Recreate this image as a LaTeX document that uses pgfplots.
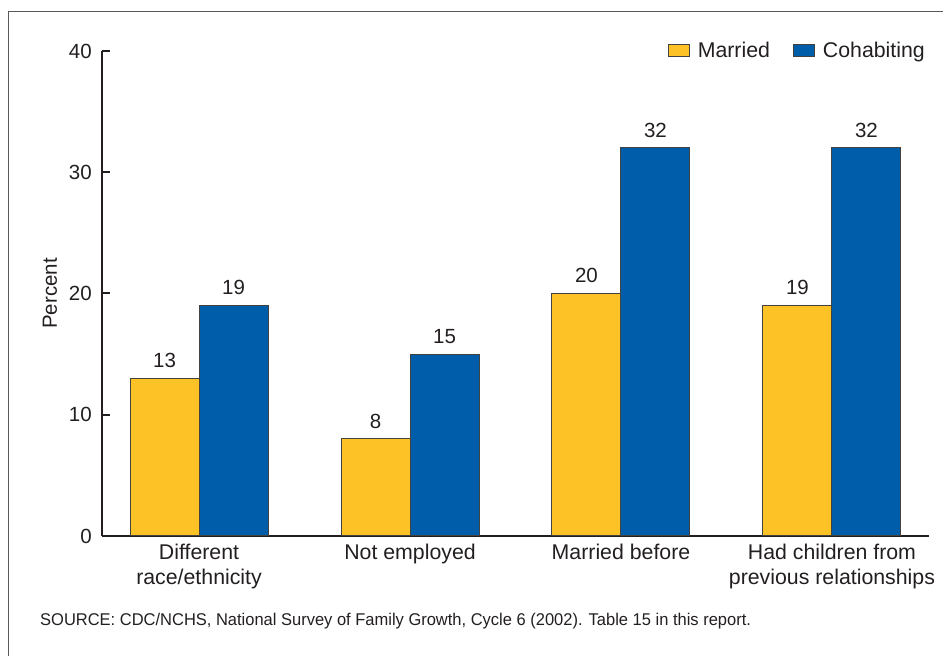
\documentclass[border=0pt]{standalone}
\usepackage{pgfplots}
\pgfplotsset{compat=1.18}
\usepackage{fontspec}
\setmainfont{Liberation Sans}
\newfontfamily\srcfont[FakeStretch=0.97]{Liberation Sans}
\definecolor{myyellow}{HTML}{FDC326}
\definecolor{myblue}{HTML}{005DAA}
\definecolor{txt}{HTML}{231F20}
\begin{document}
\begin{tikzpicture}[x=1pt,y=1pt]
\path[use as bounding box] (0,0) rectangle (943,656);
\draw[color=black!65, line width=1.5pt] (8.5,0) -- (8.5,644.5) -- (943,644.5);
\begin{axis}[
  at={(102pt,120pt)}, anchor=south west,
  scale only axis, width=827pt, height=485pt,
  xmin=-0.46, xmax=3.46, ymin=0, ymax=40,
  axis x line=bottom, axis y line=left,
  axis line style={-, line width=2.4pt, color=txt},
  ybar=0pt, bar width=69pt,
  xtick={0,1,2,3},
  xticklabels={{Different\\race/ethnicity},{Not employed},{Married before},{Had children from\\previous relationships}},
  x tick style={draw=none},
  ytick={0,10,20,30,40},
  tick align=inside, major tick length=8pt,
  y tick style={line width=2pt, color=txt},
  /pgf/number format/assume math mode=true,
  ticklabel style={font=\fontsize{20.5}{25}\selectfont, text=txt, inner sep=0pt},
  yticklabel style={xshift=-10pt},
  xticklabel style={align=center, yshift=-8pt, font=\fontsize{21.3}{25}\selectfont},
  ylabel={Percent},
  every axis y label/.style={at={(rel axis cs:0,0.5)}, xshift=-52pt, rotate=90, anchor=center, font=\fontsize{20.5}{24}\selectfont, text=txt},
  nodes near coords,
  nodes near coords style={font=\fontsize{20.5}{24}\selectfont, text=txt, inner sep=0pt, anchor=south, yshift=10pt},
  clip=false,
  legend columns=2,
  legend image code/.code={\draw[#1] (0pt,-6pt) rectangle (21pt,6pt);},
  legend style={at={(rel axis cs:1,1)}, anchor=east, xshift=-4pt, draw=none, fill=none, inner sep=0pt,
    font=\fontsize{21.3}{24}\selectfont, text=txt, nodes={inner sep=0pt},
    /tikz/every odd column/.append style={column sep=8pt},
    /tikz/every even column/.append style={column sep=23pt}},
]
\addplot[fill=myyellow, draw=txt!85, line width=1pt] coordinates {(0,13) (1,8) (2,20) (3,19)};
\addplot[fill=myblue, draw=txt!85, line width=1pt] coordinates {(0,19) (1,15) (2,32) (3,32)};
\legend{Married, Cohabiting}
\end{axis}
\node[anchor=west, inner sep=0pt, text=txt, font=\srcfont\fontsize{17}{20}\selectfont] at (40,35) {SOURCE: CDC/NCHS, National Survey of Family Growth, Cycle 6 (2002). Table 15 in this report.};
\end{tikzpicture}
\end{document}
